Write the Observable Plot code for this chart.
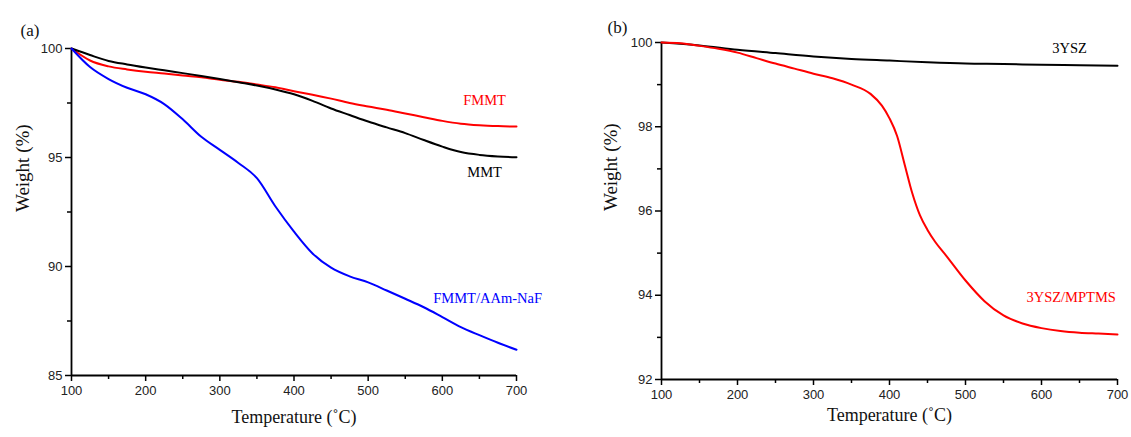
<!DOCTYPE html>
<html><head><meta charset="utf-8">
<script src="https://cdn.jsdelivr.net/npm/d3@7"></script>
<script src="https://cdn.jsdelivr.net/npm/@observablehq/plot@0.6"></script>
<style>
body{margin:0;background:#fff;}
#wrap{position:relative;width:1131px;height:437px;overflow:hidden;}
#a{position:absolute;left:0;top:0;}
#b{position:absolute;left:565px;top:0;}
</style></head><body>
<div id="wrap"><div id="a"></div><div id="b"></div></div>
<script>
// Panel (a)
const tempA = [100,125,150,175,200,225,250,275,300,325,350,375,400,425,450,475,500,525,550,575,600,625,650,675,700];
const mmt   = [100,99.70,99.43,99.27,99.13,99.00,98.87,98.74,98.60,98.45,98.30,98.12,97.90,97.60,97.25,96.95,96.65,96.38,96.12,95.80,95.50,95.25,95.12,95.05,95.01];
const fmmt  = [100,99.45,99.18,99.04,98.93,98.85,98.76,98.68,98.57,98.47,98.35,98.22,98.04,97.88,97.70,97.50,97.34,97.19,97.02,96.85,96.68,96.55,96.48,96.44,96.42];
const fmmtAAm = [100,99.15,98.60,98.20,97.90,97.45,96.75,95.95,95.35,94.75,94.05,92.75,91.60,90.60,89.95,89.55,89.27,88.90,88.52,88.13,87.68,87.22,86.85,86.50,86.18];
const seriesA = ["FMMT","MMT","FMMT/AAm-NaF"];
const colorsA = ["#ff0000","#000000","#0000ff"];
const labelPosA = [[657,97.61],[657,94.31],[661,88.53]];
const yTicksA = [85,90,95,100];
const yMinorA = [87.5,92.5,97.5];

// Panel (b)
const tempB1 = [100,150,200,250,300,350,400,450,500,550,600,650,700];
const ysz = [100,99.93,99.83,99.75,99.67,99.61,99.57,99.53,99.50,99.49,99.47,99.46,99.45];
const tempB2 = [100,125,150,175,200,225,250,275,300,325,350,375,390,400,410,420,430,440,450,460,475,500,525,550,575,600,625,650,675,700];
const yszMptms = [100,99.98,99.92,99.85,99.76,99.63,99.50,99.38,99.26,99.15,99.00,98.78,98.50,98.20,97.78,97.10,96.42,95.90,95.55,95.27,94.93,94.35,93.86,93.52,93.33,93.22,93.15,93.11,93.09,93.07];
const seriesB = ["3YSZ","3YSZ/MPTMS"];
const colorsB = ["#000000","#ff0000"];
const labelPosB = [[637,99.85],[639,93.95]];
const yTicksB = [92,94,96,98,100];
const yMinorB = [93,95,97,99];

const xTicks = [100,200,300,400,500,600,700];
const xMinor = [150,250,350,450,550,650];

const sans = "'Liberation Sans', Arial, sans-serif";
const serif = "'Liberation Serif', 'Times New Roman', serif";

function panel(o) {
  const rows = [];
  o.lines.forEach((ln, i) => ln.t.forEach((t, j) => rows.push({t, w: ln.w[j], s: o.names[i]})));
  const labs = o.names.map((n, i) => ({n, t: o.labelPos[i][0], w: o.labelPos[i][1], c: o.colors[i]}));
  return Plot.plot({
    width: o.width, height: 437,
    marginLeft: o.ml, marginRight: o.mr, marginTop: o.mt, marginBottom: o.mb,
    style: {fontFamily: sans, color: "#222", background: "#fff"},
    x: {domain: [100, 700]},
    y: {domain: o.yDomain},
    color: {domain: o.names, range: o.colors},
    marks: [
      Plot.axisY(o.yTicks, {tickSize: 6, tickPadding: 3, fontSize: 13, strokeWidth: 1.5, stroke: "#000", label: null}),
      Plot.axisY(o.yMinor, {tickSize: 4, tickFormat: () => "", strokeWidth: 1.5, stroke: "#000", label: null}),
      Plot.axisX(xTicks, {tickSize: 6, tickPadding: 4, fontSize: 13, strokeWidth: 1.5, stroke: "#000", label: null}),
      Plot.axisX(xMinor, {tickSize: 4, tickFormat: () => "", strokeWidth: 1.5, stroke: "#000", label: null}),
      Plot.ruleX([100], {stroke: "#000", strokeWidth: 1.8}),
      Plot.ruleY([o.yDomain[0]], {stroke: "#000", strokeWidth: 1.8}),
      Plot.line(rows, {x: "t", y: "w", z: "s", stroke: "s", strokeWidth: 2, curve: "monotone-x"}),
      Plot.text(labs, {x: "t", y: "w", text: "n", fill: "c", fontFamily: serif, fontSize: 14.5}),
      Plot.text(["Temperature (˚C)"], {text: d => d, frameAnchor: "bottom", dy: o.xLabDy, fontFamily: serif, fontSize: 18, fill: "#111"}),
      Plot.text(["Weight (%)"], {text: d => d, frameAnchor: "left", rotate: -90, dx: o.yLabDx, fontFamily: serif, fontSize: 19, fill: "#111"}),
      Plot.text([o.tag], {text: d => d, frameAnchor: "top-left", dx: o.tagDx, dy: o.tagDy, fontFamily: serif, fontSize: 17, fill: "#111"})
    ]
  });
}

document.getElementById("a").append(panel({
  width: 565, ml: 71, mr: 49, mt: 48, mb: 62,
  yDomain: [85, 100], yTicks: yTicksA, yMinor: yMinorA,
  lines: [{t: tempA, w: fmmt}, {t: tempA, w: mmt}, {t: tempA, w: fmmtAAm}],
  names: seriesA, colors: colorsA, labelPos: labelPosA,
  xLabDy: 47, yLabDx: -49, tag: "(a)", tagDx: -51, tagDy: -25
}));

document.getElementById("b").append(panel({
  width: 566, ml: 96, mr: 14, mt: 42, mb: 58,
  yDomain: [92, 100], yTicks: yTicksB, yMinor: yMinorB,
  lines: [{t: tempB1, w: ysz}, {t: tempB2, w: yszMptms}],
  names: seriesB, colors: colorsB, labelPos: labelPosB,
  xLabDy: 41, yLabDx: -51, tag: "(b)", tagDx: -54, tagDy: -22
}));
</script>
</body></html>
